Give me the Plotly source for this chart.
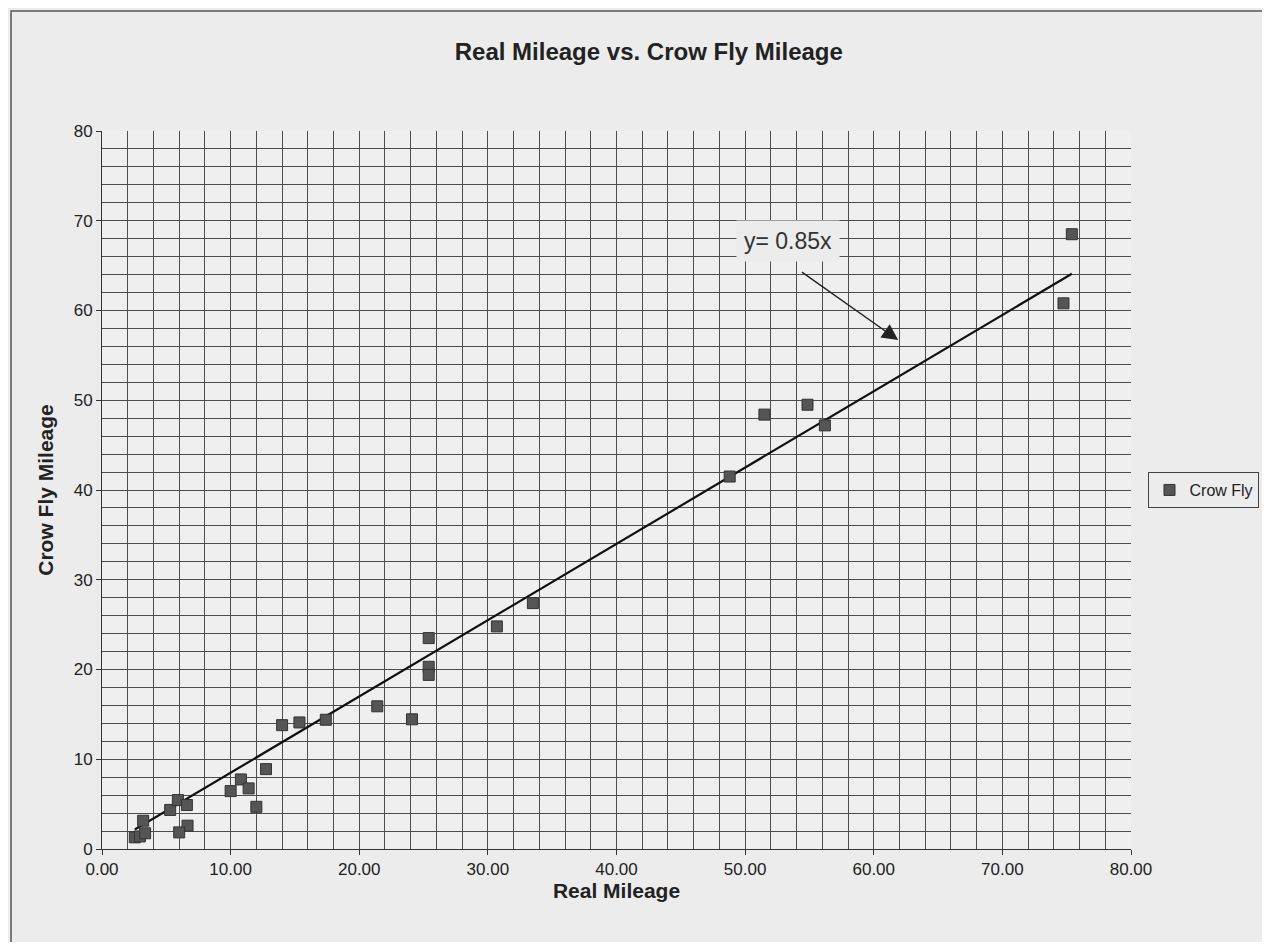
import plotly.graph_objects as go

# Data
real_mileage = [2.55, 2.95, 3.35, 3.2, 5.3, 5.9, 6.6, 6.65, 6.0, 10.0, 10.8, 11.4, 12.0, 12.75,
                14.0, 15.35, 17.4, 21.4, 24.1, 25.4, 25.4, 25.4, 30.7, 33.5, 48.8, 51.5,
                54.85, 56.2, 74.75, 75.4]
crow_fly = [1.3, 1.4, 1.75, 3.15, 4.35, 5.45, 4.9, 2.6, 1.85, 6.45, 7.75, 6.75, 4.7, 8.9,
            13.8, 14.1, 14.4, 15.9, 14.45, 23.5, 20.3, 19.4, 24.8, 27.4, 41.5, 48.4,
            49.5, 47.2, 60.8, 68.5]
slope = 0.85
x_ticks = [0, 10, 20, 30, 40, 50, 60, 70, 80]
y_ticks = [0, 10, 20, 30, 40, 50, 60, 70, 80]

FONT = "Liberation Sans, Arial, sans-serif"
BG = "#ececec"
GRID = "#4d4d4d"

trend_x = [min(real_mileage), max(real_mileage)]
trend_y = [slope * v for v in trend_x]

fig = go.Figure()
fig.add_trace(go.Scatter(
    x=trend_x, y=trend_y, mode="lines",
    line=dict(color="#111111", width=2.2),
    showlegend=False, hoverinfo="skip"))
fig.add_trace(go.Scatter(
    x=real_mileage, y=crow_fly, mode="markers", name="Crow Fly",
    marker=dict(symbol="square", size=11, color="#555555",
                line=dict(color="#333333", width=1))))

fig.add_annotation(x=53.3, y=67.7, xref="x", yref="y", text="y= 0.85x",
                   showarrow=False, font=dict(family=FONT, size=23, color="#333333"),
                   bgcolor=BG, borderpad=7)
fig.add_annotation(x=61.9, y=56.7, ax=54.3, ay=64.4, xref="x", yref="y",
                   axref="x", ayref="y", text="", showarrow=True,
                   arrowhead=2, arrowsize=2.3, arrowwidth=1.4, arrowcolor="#222222")

axis_common = dict(
    range=[0, 80], showgrid=True, gridcolor=GRID, gridwidth=1,
    minor=dict(dtick=2, showgrid=True, gridcolor=GRID, gridwidth=1, ticks=""),
    showline=True, linecolor="#333333", linewidth=1,
    ticks="outside", ticklen=5, tickcolor="#333333",
    tickfont=dict(family=FONT, size=17, color="#222222"),
    zeroline=False, fixedrange=True)

fig.update_xaxes(**axis_common, tickvals=x_ticks,
                 ticktext=[f"{v:.2f}" for v in x_ticks],
                 title=dict(text="<b>Real Mileage</b>",
                            font=dict(family=FONT, size=21, color="#222222"), standoff=0))
fig.update_yaxes(**axis_common, tickvals=y_ticks,
                 ticktext=[str(v) for v in y_ticks],
                 title=dict(text="<b>Crow Fly Mileage</b>",
                            font=dict(family=FONT, size=21, color="#222222"), standoff=14))

fig.add_shape(type="rect", xref="paper", yref="paper",
              x0=-0.0884, x1=1.3, y0=-0.3, y1=1.167,
              line=dict(color="#555555", width=1.5), fillcolor="rgba(0,0,0,0)", layer="below")

fig.update_layout(
    width=1254, height=934,
    margin=dict(l=94, r=131, t=123, b=93, autoexpand=False),
    paper_bgcolor=BG, plot_bgcolor="#efefef",
    title=dict(text="<b>Real Mileage vs. Crow Fly Mileage</b>", x=0.511, xanchor="center",
               y=0.953, yanchor="middle",
               font=dict(family=FONT, size=24, color="#222222")),
    legend=dict(x=1.017, y=0.525, xanchor="left", yanchor="top",
                bgcolor=BG, bordercolor="#444444", borderwidth=1,
                font=dict(family=FONT, size=16, color="#222222")),
    showlegend=True,
)

fig.write_html("out.html")
